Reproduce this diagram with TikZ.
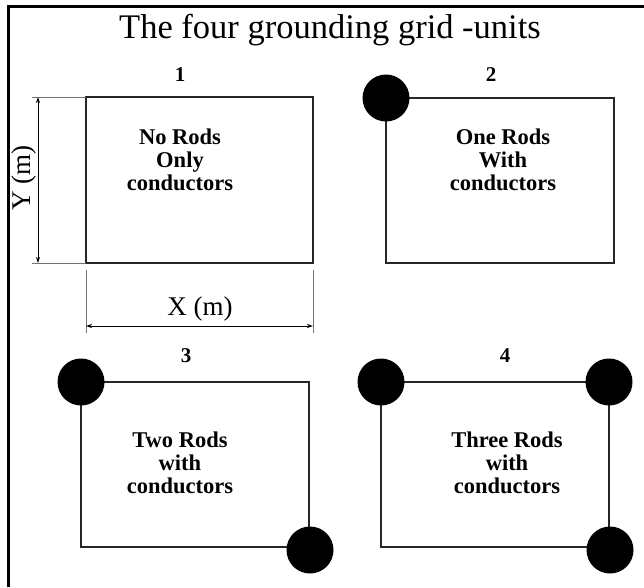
\documentclass[tikz,border=0pt]{standalone}
\usepackage{fontspec}
\setmainfont{Liberation Serif}
\usetikzlibrary{arrows.meta}

\begin{document}
\begin{tikzpicture}[x=1pt, y=-1pt, >={Stealth[length=6pt,width=4pt]},
    grid/.style={line width=2pt, draw=black!85},
    rod/.style={circle, fill=black, minimum size=47pt, inner sep=0pt},
    unitno/.style={font=\fontsize{21}{21}\selectfont\bfseries},
    desc/.style={align=center, font=\fontsize{22.5}{23}\selectfont\bfseries},
    dim/.style={<->, line width=0.9pt},
    ext/.style={line width=0.7pt, draw=black!55},
    dimlab/.style={font=\fontsize{27}{27}\selectfont}]
  \useasboundingbox (0,0) rectangle (644,587);

% ---------------- frame and title
  \draw[line width=3pt] (8,587) -- (8,6) -- (644,6);
  \node (title) at (330,30) {\fontsize{34.5}{34.5}\selectfont The four grounding grid -units};

% ---------------- unit 1: no rods, only the conductors
  \draw[grid] (86,97) rectangle (313,263);
  \node[unitno] (num1) at (180,75) {1};
  \node[desc] (lab1) at (180,160) {No Rods\\Only\\conductors};

% ---------------- dimensions of unit 1
  \coordinate (ytop) at (38,97);
  \coordinate (ybot) at (38,263);
  \coordinate (xleft) at (86,326);
  \coordinate (xright) at (313,326);
  \draw[ext] (32,97) -- (86,97);
  \draw[ext] (32,263) -- (86,263);
  \draw[ext] (86,270) -- (86,333);
  \draw[ext] (313,270) -- (313,333);
  \draw[dim] (ytop) -- (ybot);
  \draw[dim] (xleft) -- (xright);
  \node[dimlab, rotate=90] (ylab) at (24,178) {Y (m)};
  \node[dimlab] (xlab) at (200,309) {X (m)};

% ---------------- unit 2: one rod, top left corner
  \draw[grid] (386,98) rectangle (614,263);
  \node[unitno] (num2) at (491,75) {2};
  \node[desc] (lab2) at (503,160) {One Rods\\With\\conductors};
  \node[rod] (r2a) at (386,98) {};

% ---------------- unit 3: two rods, opposite corners
  \draw[grid] (81,382) rectangle (309,547);
  \node[unitno] (num3) at (186,356) {3};
  \node[desc] (lab3) at (180,463) {Two Rods\\with\\conductors};
  \node[rod] (r3a) at (81,382) {};
  \node[rod] (r3b) at (310,550) {};

% ---------------- unit 4: three rods
  \draw[grid] (381,382) rectangle (609,547);
  \node[unitno] (num4) at (505,356) {4};
  \node[desc] (lab4) at (507,463) {Three Rods\\with\\conductors};
  \node[rod] (r4a) at (381,382) {};
  \node[rod] (r4b) at (609,382) {};
  \node[rod] (r4c) at (610,550) {};
\end{tikzpicture}
\end{document}
